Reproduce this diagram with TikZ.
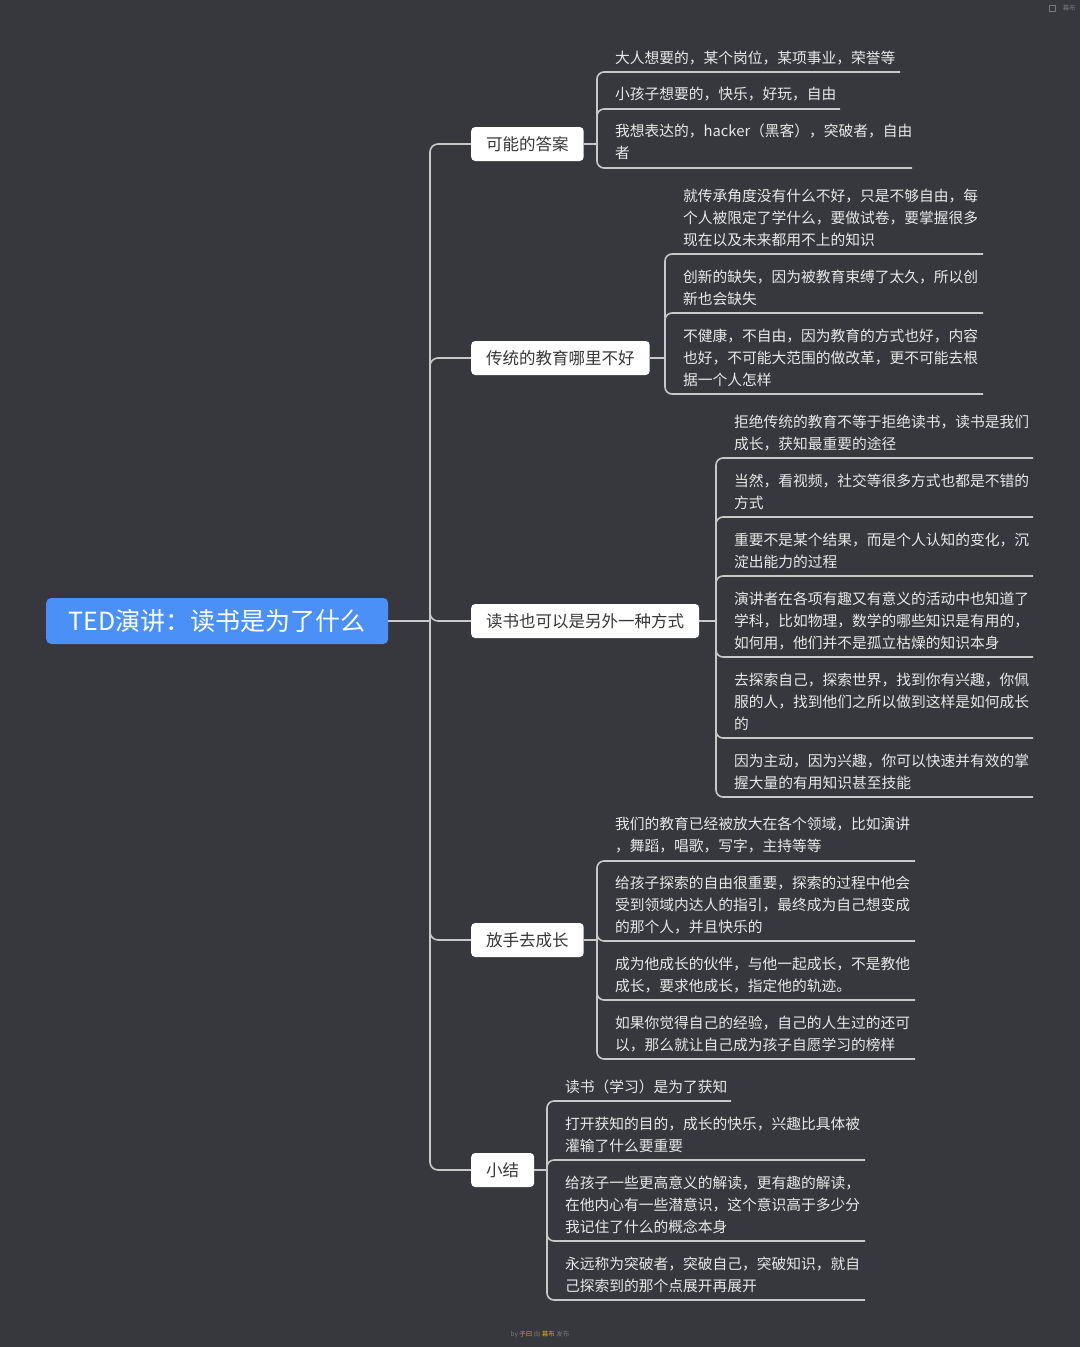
\documentclass[tikz,border=0pt]{standalone}
\usepackage{fontspec}
\setmainfont{Noto Sans CJK SC}
\definecolor{bg}{RGB}{54,56,61}
\definecolor{rootblue}{RGB}{74,144,247}
\definecolor{linec}{RGB}{200,200,200}
\definecolor{itemc}{RGB}{232,232,232}
\definecolor{boxtext}{RGB}{55,55,55}
\definecolor{wmgray}{RGB}{120,120,125}
\definecolor{wmorange}{RGB}{215,160,40}
\tikzset{
  conn/.style={draw=linec, line width=1.6pt},
  itemtext/.style={inner sep=0pt, align=left, text=itemc, font=\fontsize{14.75}{22}\selectfont, anchor=west, yshift=-1pt},
  topicbox/.style={fill=white, rounded corners=4pt, inner xsep=15pt, inner ysep=0pt, minimum height=34pt, text=boxtext, font=\fontsize{16.5}{20}\selectfont, anchor=west},
  rootbox/.style={fill=rootblue, rounded corners=5pt, minimum width=342pt, minimum height=46pt, text=white, font=\fontsize{25}{29}\selectfont, anchor=west, inner sep=0pt},
  wm/.style={inner sep=0pt, text=wmgray, font=\fontsize{6.5}{8}\selectfont},
}
% #1 hub, #2 name, #3 text x, #4 text centre y, #5 underline y, #6 underline end x, #7 text
\newcommand\mmitem[7]{%
  \node[itemtext] (#2) at (#3,#4) {#7};
  \coordinate (#2e) at (#6,#5);
  \draw[conn, rounded corners=7pt] (#1) |- (#2e);
}
\begin{document}
\begin{tikzpicture}[x=1pt,y=-1pt]
\fill[bg] (0,0) rectangle (1080,1347);
\useasboundingbox (0,0) rectangle (1080,1347);

% root and topics
\node[rootbox] (root) at (46,621) {TED演讲：读书是为了什么};
\node[topicbox] (t1) at (471,144) {可能的答案};
\node[topicbox] (t2) at (471,358) {传统的教育哪里不好};
\node[topicbox] (t3) at (471,621) {读书也可以是另外一种方式};
\node[topicbox] (t4) at (471,940) {放手去成长};
\node[topicbox] (t5) at (471,1170) {小结};

\coordinate (hub) at (430,621);
\draw[conn] (root.east) -- (hub);
\foreach \t in {t1,t2,t3,t4,t5}{\draw[conn, rounded corners=8pt] (hub) |- (\t.west);}

% group 1
\coordinate (h1) at (597,144);
\draw[conn] (t1.east) -- (h1);
\mmitem{h1}{a1}{615}{57}{72}{900}{大人想要的，某个岗位，某项事业，荣誉等}
\mmitem{h1}{a2}{615}{93}{109}{840}{小孩子想要的，快乐，好玩，自由}
\mmitem{h1}{a3}{615}{141}{168}{912}{我想表达的，hacker（黑客），突破者，自由\\者}

% group 2
\coordinate (h2) at (665,358);
\draw[conn] (t2.east) -- (h2);
\mmitem{h2}{b1}{683}{217}{254}{983}{就传承角度没有什么不好，只是不够自由，每\\个人被限定了学什么，要做试卷，要掌握很多\\现在以及未来都用不上的知识}
\mmitem{h2}{b2}{683}{287}{313}{983}{创新的缺失，因为被教育束缚了太久，所以创\\新也会缺失}
\mmitem{h2}{b3}{683}{357}{394}{983}{不健康，不自由，因为教育的方式也好，内容\\也好，不可能大范围的做改革，更不可能去根\\据一个人怎样}

% group 3
\coordinate (h3) at (716,621);
\draw[conn] (t3.east) -- (h3);
\mmitem{h3}{c1}{734}{432}{458}{1033}{拒绝传统的教育不等于拒绝读书，读书是我们\\成长，获知最重要的途径}
\mmitem{h3}{c2}{734}{491}{517}{1033}{当然，看视频，社交等很多方式也都是不错的\\方式}
\mmitem{h3}{c3}{734}{550}{576}{1033}{重要不是某个结果，而是个人认知的变化，沉\\淀出能力的过程}
\mmitem{h3}{c4}{734}{620}{657}{1033}{演讲者在各项有趣又有意义的活动中也知道了\\学科，比如物理，数学的哪些知识是有用的，\\如何用，他们并不是孤立枯燥的知识本身}
\mmitem{h3}{c5}{734}{701}{738}{1033}{去探索自己，探索世界，找到你有兴趣，你佩\\服的人，找到他们之所以做到这样是如何成长\\的}
\mmitem{h3}{c6}{734}{771}{797}{1033}{因为主动，因为兴趣，你可以快速并有效的掌\\握大量的有用知识甚至技能}

% group 4
\coordinate (h4) at (597,940);
\draw[conn] (t4.east) -- (h4);
\mmitem{h4}{d1}{615}{834}{861}{915}{我们的教育已经被放大在各个领域，比如演讲\\，舞蹈，唱歌，写字，主持等等}
\mmitem{h4}{d2}{615}{904}{941}{915}{给孩子探索的自由很重要，探索的过程中他会\\受到领域内达人的指引，最终成为自己想变成\\的那个人，并且快乐的}
\mmitem{h4}{d3}{615}{974}{1000}{915}{成为他成长的伙伴，与他一起成长，不是教他\\成长，要求他成长，指定他的轨迹。}
\mmitem{h4}{d4}{615}{1033}{1059}{915}{如果你觉得自己的经验，自己的人生过的还可\\以，那么就让自己成为孩子自愿学习的榜样}

% group 5
\coordinate (h5) at (547,1170);
\draw[conn] (t5.east) -- (h5);
\mmitem{h5}{e1}{565}{1086}{1101}{731}{读书（学习）是为了获知}
\mmitem{h5}{e2}{565}{1134}{1160}{865}{打开获知的目的，成长的快乐，兴趣比具体被\\灌输了什么要重要}
\mmitem{h5}{e3}{565}{1204}{1241}{865}{给孩子一些更高意义的解读，更有趣的解读，\\在他内心有一些潜意识，这个意识高于多少分\\我记住了什么的概念本身}
\mmitem{h5}{e4}{565}{1274}{1300}{865}{永远称为突破者，突破自己，突破知识，就自\\己探索到的那个点展开再展开}

% watermarks
\node[draw=wmgray, line width=0.8pt, minimum size=6pt, inner sep=0pt] (wmicon) at (1052,8) {};
\node[wm, anchor=east] (wmtop) at (1076,8) {幕布};
\node[wm] (wmbot) at (540,1335) {by \textcolor{wmorange}{子曰} 由 \textcolor{wmorange}{幕布} 发布};
\end{tikzpicture}
\end{document}
